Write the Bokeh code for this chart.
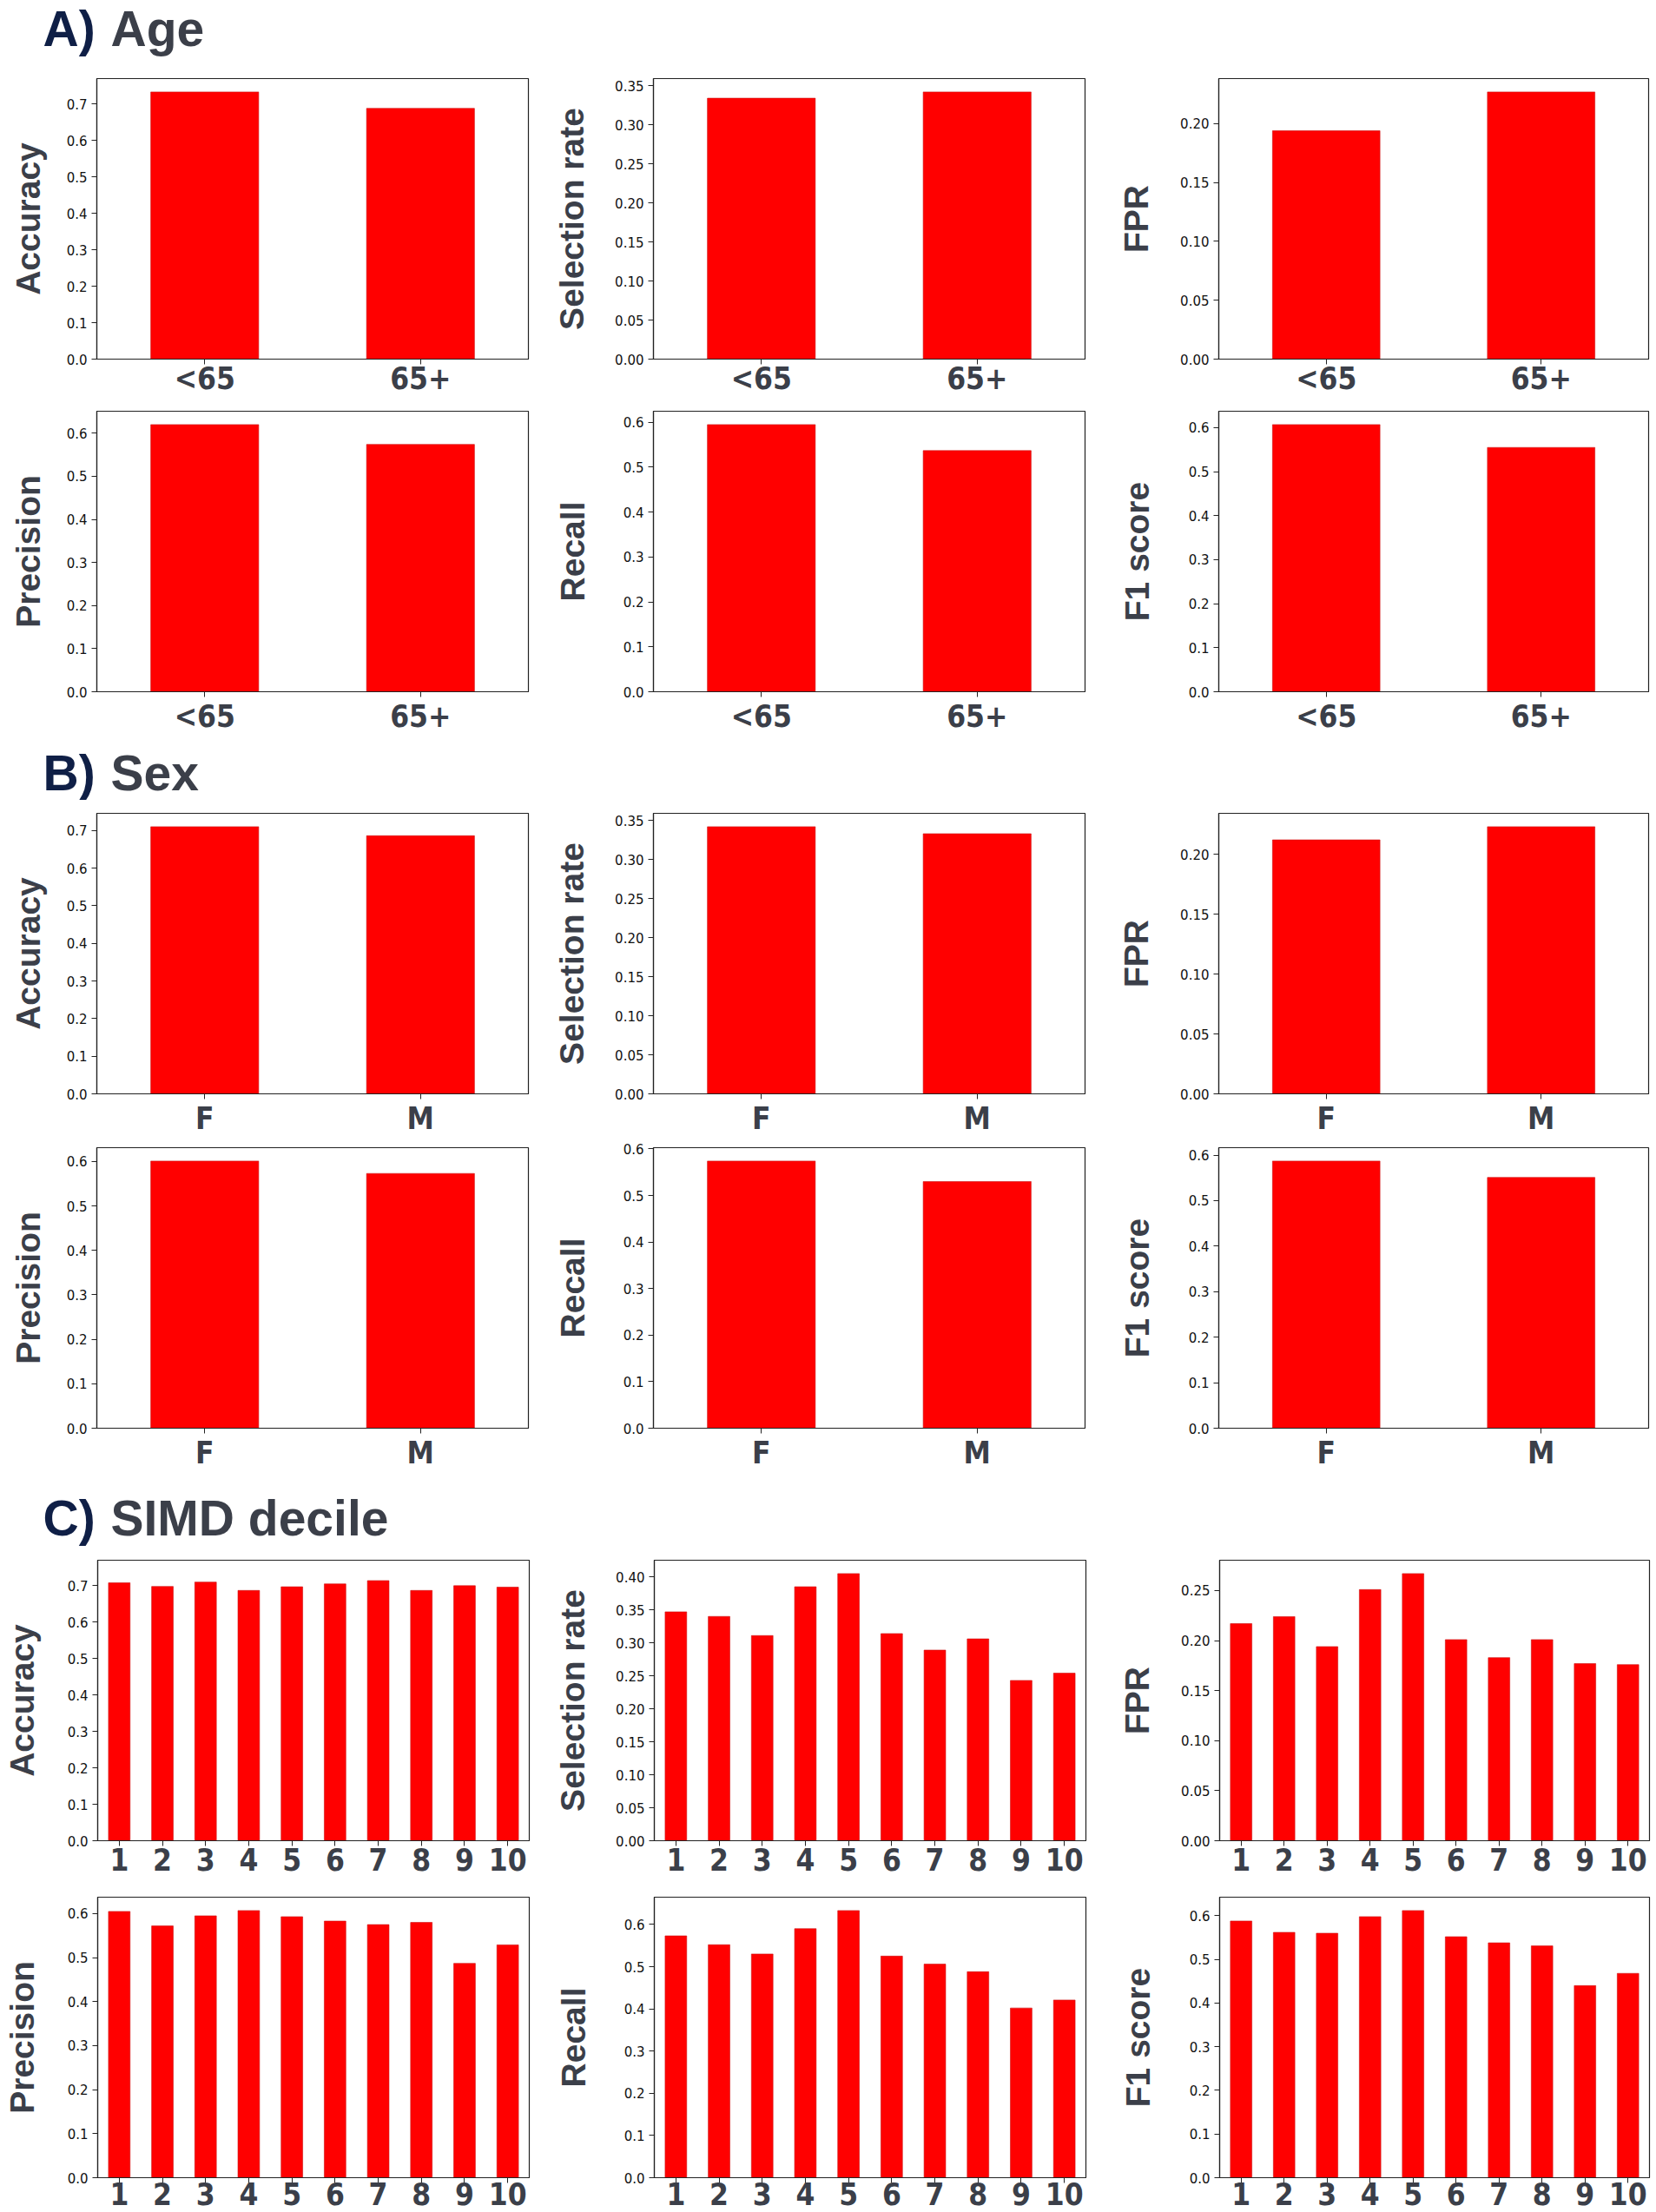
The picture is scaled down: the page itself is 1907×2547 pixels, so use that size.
from bokeh.plotting import figure
from bokeh.models import FactorRange, Range1d, FixedTicker, PrintfTickFormatter, ColumnDataSource
from bokeh.core.properties import value
from bokeh.layouts import column, row
from bokeh.embed import file_html
from bokeh.resources import INLINE

# ---------------- data ----------------
age_groups = ["<65", "65+"]
sex_groups = ["F", "M"]
simd_deciles = ["1", "2", "3", "4", "5", "6", "7", "8", "9", "10"]

metric_names = ["Accuracy", "Selection rate", "FPR", "Precision", "Recall", "F1 score"]

age_accuracy = [0.733, 0.688]
age_selection_rate = [0.334, 0.342]
age_fpr = [0.194, 0.227]
age_precision = [0.620, 0.574]
age_recall = [0.595, 0.537]
age_f1 = [0.607, 0.555]

sex_accuracy = [0.710, 0.686]
sex_selection_rate = [0.342, 0.333]
sex_fpr = [0.212, 0.223]
sex_precision = [0.601, 0.573]
sex_recall = [0.574, 0.530]
sex_f1 = [0.587, 0.551]

simd_accuracy = [0.708, 0.698, 0.710, 0.687, 0.697, 0.705, 0.714, 0.687, 0.700, 0.696]
simd_selection_rate = [0.347, 0.340, 0.311, 0.385, 0.405, 0.314, 0.289, 0.306, 0.243, 0.254]
simd_fpr = [0.217, 0.224, 0.194, 0.251, 0.267, 0.201, 0.183, 0.201, 0.177, 0.176]
simd_precision = [0.605, 0.572, 0.595, 0.607, 0.593, 0.583, 0.575, 0.580, 0.487, 0.529]
simd_recall = [0.573, 0.552, 0.530, 0.590, 0.633, 0.525, 0.506, 0.488, 0.402, 0.421]
simd_f1 = [0.588, 0.562, 0.560, 0.598, 0.612, 0.552, 0.538, 0.531, 0.440, 0.468]

groups = [
    ("A)", "Age", age_groups,
     [age_accuracy, age_selection_rate, age_fpr, age_precision, age_recall, age_f1]),
    ("B)", "Sex", sex_groups,
     [sex_accuracy, sex_selection_rate, sex_fpr, sex_precision, sex_recall, sex_f1]),
    ("C)", "SIMD decile", simd_deciles,
     [simd_accuracy, simd_selection_rate, simd_fpr, simd_precision, simd_recall, simd_f1]),
]

# axis top overrides
y_top_override = {("C)", "Accuracy"): 0.77}

# ---------------- styles ----------------
NAVY = "#0f1f46"
GRAY = "#3b3f49"
BAR = "#ff0000"
EDGE = "#cc1010"
FRAME = "#222222"
FRAME_H = 323
TICK_FONT = "'Liberation Sans Narrow', 'DejaVu Sans Condensed', 'Liberation Sans'"

# (border_left, frame_width, border_right)
col_specs = [(111, 497, 24), (120, 497, 30), (124, 495, 9)]
# target y-label centre distance from frame left, per group and column
label_dist = [[77, 91, 92], [77, 91, 92], [85, 91, 92]]
# per row (border_top, border_bottom, x-label standoff)
row_specs = [[(20, 45, -4), (15, 49, 2)],
             [(15, 49, 2), (11, 49, 2)],
             [(15, 49, 2), (16, 46, -1)]]
# title strips: (height, baseline offset)
title_specs = [(70, 38), (74, 32), (86, 34)]
TOTAL_W = sum(c[0] + c[1] + c[2] for c in col_specs)


def make_panel(gi, gkey, cats, vals, name, col, bt, bb, xso):
    bl, fw, br = col_specs[col]
    small = name in ("Selection rate", "FPR")
    step = 0.05 if small else 0.1
    fmt = "%.2f" if small else "%.1f"
    ytop = y_top_override.get((gkey, name), max(vals) * 1.05)
    p = figure(x_range=FactorRange(*cats), y_range=Range1d(0, ytop),
               frame_width=fw, frame_height=FRAME_H,
               min_border_left=bl, min_border_right=br,
               min_border_top=bt, min_border_bottom=bb,
               toolbar_location=None, tools="", output_backend="svg")
    src = ColumnDataSource(dict(cat=cats, val=vals))
    p.vbar(x="cat", top="val", width=0.5, source=src,
           fill_color=BAR, line_color=EDGE, line_width=0.6)
    p.grid.visible = False
    p.outline_line_color = FRAME
    p.outline_line_width = 1.2
    p.background_fill_color = "white"
    p.border_fill_color = "white"

    ticks = []
    i = 0
    while i * step <= ytop + 1e-9:
        ticks.append(round(i * step, 2))
        i += 1
    tick_w = 33 if small else 24
    standoff = max(4, label_dist[gi][col] - 11 - tick_w - 22)

    ya = p.yaxis[0]
    ya.ticker = FixedTicker(ticks=ticks)
    ya.formatter = PrintfTickFormatter(format=fmt)
    ya.minor_tick_line_color = None
    ya.major_tick_in = 0
    ya.major_tick_out = 6
    ya.major_tick_line_color = FRAME
    ya.axis_line_color = FRAME
    ya.axis_line_width = 1.2
    ya.major_label_text_font = "DejaVu Sans"
    ya.major_label_text_font_size = "15px"
    ya.major_label_text_color = "#111111"
    ya.major_label_standoff = 5
    ya.axis_label = name
    ya.axis_label_text_font = "Liberation Sans"
    ya.axis_label_text_font_style = "bold"
    ya.axis_label_text_font_size = "39px"
    ya.axis_label_text_color = GRAY
    ya.axis_label_standoff = standoff

    xa = p.xaxis[0]
    xa.major_tick_in = 0
    xa.major_tick_out = 6
    xa.major_tick_line_color = FRAME
    xa.minor_tick_line_color = None
    xa.axis_line_color = FRAME
    xa.axis_line_width = 1.2
    xa.major_label_text_font = TICK_FONT
    xa.major_label_text_font_style = "bold"
    xa.major_label_text_font_size = "35px"
    xa.major_label_text_color = GRAY
    xa.major_label_standoff = xso
    return p


def make_title(letter, rest, h, base):
    t = figure(x_range=Range1d(0, TOTAL_W), y_range=Range1d(0, h),
               frame_width=TOTAL_W, frame_height=h,
               min_border=0, min_border_left=0, min_border_right=0,
               min_border_top=0, min_border_bottom=0,
               x_axis_location=None, y_axis_location=None,
               toolbar_location=None, tools="", output_backend="svg")
    t.outline_line_color = None
    t.grid.visible = False
    src = ColumnDataSource(dict(x=[49, 127], y=[base, base], txt=[letter, rest],
                                col=[NAVY, GRAY]))
    t.text(x="x", y="y", text="txt", text_color="col", source=src,
           text_font=value("Liberation Sans"), text_font_style="bold",
           text_font_size="57px", text_baseline="alphabetic", text_align="left")
    return t


items = []
for gi, (letter, rest, cats, metrics) in enumerate(groups):
    h, base = title_specs[gi]
    items.append(make_title(letter, rest, h, base))
    for r in range(2):
        bt, bb, xso = row_specs[gi][r]
        figs = []
        for c in range(3):
            k = r * 3 + c
            figs.append(make_panel(gi, letter, cats, metrics[k], metric_names[k], c, bt, bb, xso))
        items.append(row(*figs))

layout = column(*items)
open("out.html", "w").write(file_html(layout, INLINE))
